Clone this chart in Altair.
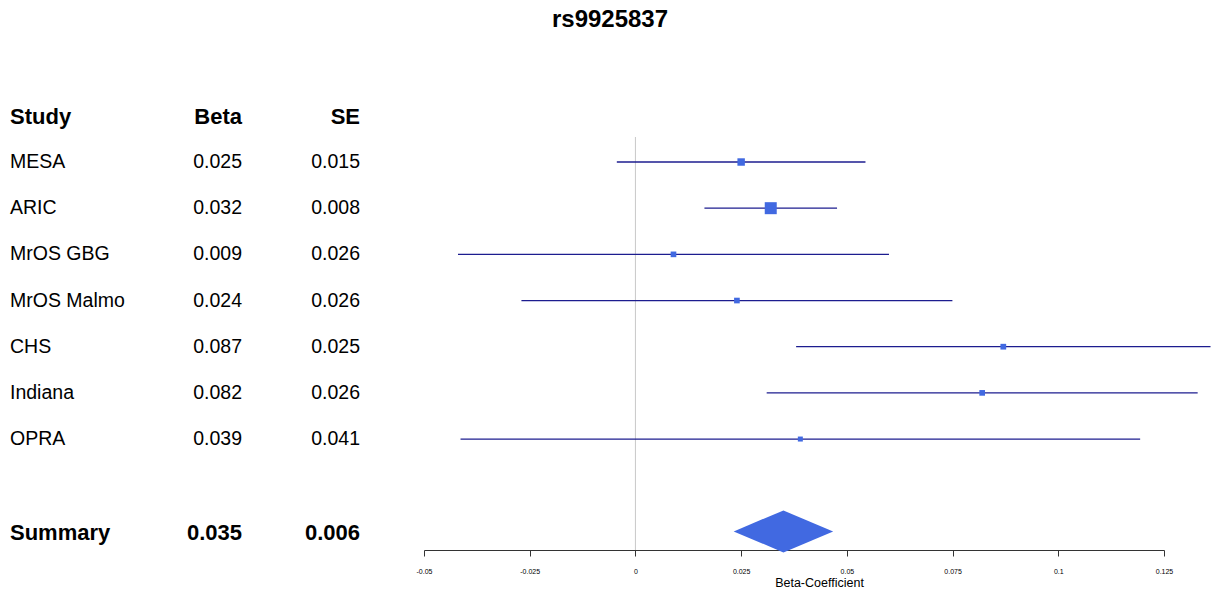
import altair as alt
import pandas as pd

# ---- values -------------------------------------------------------------
title_text = "rs9925837"
studies = ["MESA", "ARIC", "MrOS GBG", "MrOS Malmo", "CHS", "Indiana", "OPRA"]
betas = [0.025, 0.032, 0.009, 0.024, 0.087, 0.082, 0.039]
ses = [0.015, 0.008, 0.026, 0.026, 0.025, 0.026, 0.041]
summary_label = "Summary"
summary_beta = 0.035
summary_se = 0.006
headers = ["Study", "Beta", "SE"]
x_ticks = [-0.05, -0.025, 0, 0.025, 0.05, 0.075, 0.1, 0.125]
x_title = "Beta-Coefficient"

Z = 1.96  # 95% confidence interval multiplier

# ---- tables -------------------------------------------------------------
study_df = pd.DataFrame({"study": studies, "beta": betas, "se": ses,
                         "row": list(range(len(studies)))})
study_df["lo"] = study_df["beta"] - Z * study_df["se"]
study_df["hi"] = study_df["beta"] + Z * study_df["se"]
study_df["weight"] = 1.0 / study_df["se"] ** 2
study_df["beta_txt"] = study_df["beta"].map(lambda v: f"{v:.3f}")
study_df["se_txt"] = study_df["se"].map(lambda v: f"{v:.3f}")

summary_row = len(studies) + 1
header_row = -0.97
bold_df = pd.DataFrame({
    "study": [headers[0], summary_label],
    "beta_txt": [headers[1], f"{summary_beta:.3f}"],
    "se_txt": [headers[2], f"{summary_se:.3f}"],
    "row": [header_row, summary_row + 0.03],
})

half = 0.455  # half height of the summary diamond, in rows
s_lo = summary_beta - Z * summary_se
s_hi = summary_beta + Z * summary_se
diamond_df = pd.DataFrame({
    "x": [s_lo, summary_beta, s_hi],
    "top": [summary_row, summary_row - half, summary_row],
    "bottom": [summary_row, summary_row + half, summary_row],
})

# ---- scales / axis ------------------------------------------------------
FONT = "Liberation Sans"
xscale = alt.Scale(domain=[x_ticks[0], x_ticks[-1]], nice=False, zero=False)
yscale = alt.Scale(domain=[-2.426, 8.403], reverse=True, nice=False, zero=False)
x_axis = alt.Axis(values=x_ticks, title=x_title, labelExpr="toString(datum.value)",
                  labelFont=FONT, labelFontSize=7, labelColor="#000000",
                  labelFlush=False, labelOverlap=False, labelPadding=11,
                  tickSize=6, tickColor="#333333", domainColor="#333333",
                  grid=False, titleFont=FONT, titleFontSize=12.5,
                  titleFontWeight="normal", titleColor="#000000", titlePadding=2,
                  titleX=395, titleAlign="center")

Y = alt.Y("row:Q", scale=yscale, axis=None)

zero_line = alt.Chart(pd.DataFrame({"x": [0]})).mark_rule(
    color="#c8c8c8", strokeWidth=1
).encode(x=alt.X("x:Q", scale=xscale, axis=x_axis, title=x_title),
         y=alt.value(87), y2=alt.value(500))

ci = alt.Chart(study_df).mark_rule(color="#1c1c8f", strokeWidth=1.3).encode(
    x=alt.X("lo:Q", scale=xscale, axis=x_axis, title=x_title), x2="hi:Q", y=Y)

boxes = alt.Chart(study_df).mark_square(color="#4169E1", opacity=1).encode(
    x=alt.X("beta:Q", scale=xscale, axis=x_axis, title=x_title), y=Y,
    size=alt.Size("weight:Q", scale=alt.Scale(range=[25, 144], zero=False), legend=None))

diamond = alt.Chart(diamond_df).mark_area(color="#4169E1", opacity=1).encode(
    x=alt.X("x:Q", scale=xscale, axis=x_axis, title=x_title),
    y=alt.Y("top:Q", scale=yscale, axis=None), y2="bottom:Q")


def text_cols(df, size, weight):
    base = alt.Chart(df)
    kw = dict(font=FONT, fontSize=size, fontWeight=weight, color="#000000",
              baseline="middle")
    name = base.mark_text(align="left", **kw).encode(
        x=alt.value(-414), y=Y, text="study:N")
    b = base.mark_text(align="right", **kw).encode(
        x=alt.value(-182), y=Y, text="beta_txt:N")
    s = base.mark_text(align="right", **kw).encode(
        x=alt.value(-64), y=Y, text="se_txt:N")
    return name + b + s


chart = alt.layer(
    zero_line, ci, boxes, diamond,
    text_cols(study_df, 19.5, "normal"),
    text_cols(bold_df, 22, "bold"),
).properties(
    width=740, height=500,
    padding={"left": 424, "right": 51, "top": 50, "bottom": 45},
    autosize="none",
    background="white",
    title=alt.TitleParams(title_text, font=FONT, fontSize=24, fontWeight="bold",
                          color="#000000", dx=-184, offset=18),
).configure_view(stroke=None)

chart.save("out.html", embed_options={"renderer": "svg", "actions": False})
